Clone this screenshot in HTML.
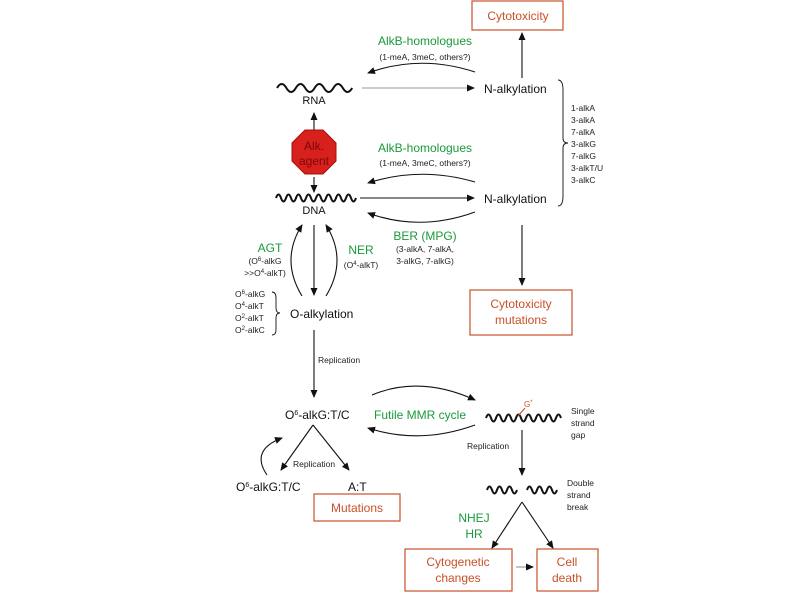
<!DOCTYPE html>
<html><head><meta charset="utf-8"><style>
html,body{margin:0;padding:0;background:#fff}
svg{display:block;font-family:"Liberation Sans",sans-serif}
.g{fill:#1a9a3a}.o{fill:#c8502a}
</style></head><body>
<svg width="794" height="595" viewBox="0 0 794 595" xmlns="http://www.w3.org/2000/svg">
<defs>
<marker id="a" markerWidth="8" markerHeight="8" refX="7" refY="4" orient="auto" markerUnits="userSpaceOnUse"><path d="M0,0.5 L8,4 L0,7.5z" fill="#111"/></marker>
</defs>
<g fill="none" stroke="#c8502a" stroke-width="1.2">
<rect x="472" y="1" width="91" height="29"/>
<rect x="470" y="290" width="102" height="45"/>
<rect x="314" y="494" width="86" height="27"/>
<rect x="405" y="549" width="107" height="42"/>
<rect x="537" y="549" width="61" height="42"/>
</g>
<g font-size="12" class="o" text-anchor="middle">
<text x="518" y="20">Cytotoxicity</text>
<text x="521" y="308">Cytotoxicity</text>
<text x="521" y="324">mutations</text>
<text x="357" y="512">Mutations</text>
<text x="458" y="566">Cytogenetic</text>
<text x="458" y="582">changes</text>
<text x="567" y="566">Cell</text>
<text x="567" y="582">death</text>
</g>
<g stroke="#111" stroke-width="1.1" fill="none">
<path d="M475,72 Q420,54 368,73" marker-end="url(#a)"/>
<path d="M362,88 L474,88" stroke="#999" marker-end="url(#a)"/>
<path d="M522,78 L522,33" marker-end="url(#a)"/>
<path d="M314,140 L314,113" marker-end="url(#a)"/>
<path d="M314,177 L314,192" marker-end="url(#a)"/>
<path d="M475,182 Q420,166 368,183" marker-end="url(#a)"/>
<path d="M360,198 L474,198" marker-end="url(#a)"/>
<path d="M475,212 Q420,232 368,213" marker-end="url(#a)"/>
<path d="M522,225 L522,285" marker-end="url(#a)"/>
<path d="M314,225 L314,295" marker-end="url(#a)"/>
<path d="M302,296 Q280,260 302,225" marker-end="url(#a)"/>
<path d="M326,296 Q348,260 326,225" marker-end="url(#a)"/>
<path d="M314,330 L314,397" marker-end="url(#a)"/>
<path d="M372,395 Q420,375 475,400" marker-end="url(#a)"/>
<path d="M475,425 Q420,445 368,428" marker-end="url(#a)"/>
<path d="M522,430 L522,475" marker-end="url(#a)"/>
<path d="M313,425 L281,470" marker-end="url(#a)"/>
<path d="M313,425 L349,470" marker-end="url(#a)"/>
<path d="M267,475 Q250,450 282,438" marker-end="url(#a)"/>
<path d="M522,502 L492,548" marker-end="url(#a)"/>
<path d="M522,502 L553,548" marker-end="url(#a)"/>
<path d="M516,567 L533,567" stroke="#888" marker-end="url(#a)"/>
<path d="M558,80 Q563,80 563,90 L563,138 Q563,143 568,143 Q563,143 563,148 L563,196 Q563,206 558,206" stroke-width="0.9"/>
<path d="M272,292 Q276,292 276,298 L276,308 Q276,313 280,313 Q276,313 276,318 L276,330 Q276,335 272,335" stroke-width="0.9"/>
<path d="M277,88 q4.7,-8 9.4,0 t9.4,0 t9.4,0 t9.4,0 t9.4,0 t9.4,0 t9.4,0 t9.4,0" stroke-width="2"/>
<path d="M276,198 q2.5,-7 5,0 t5,0 t5,0 t5,0 t5,0 t5,0 t5,0 t5,0 t5,0 t5,0 t5,0 t5,0 t5,0 t5,0 t5,0 t5,0" stroke-width="2"/>
<path d="M486,418 q2.5,-7 5,0 t5,0 t5,0 t5,0 t5,0 t5,0 t5,0 t5,0 t5,0 t5,0 t5,0 t5,0 t5,0 t5,0 t5,0" stroke-width="2"/>
<path d="M487,490 q2.5,-7 5,0 t5,0 t5,0 t5,0 t5,0 t5,0" stroke-width="2"/>
<path d="M527,490 q2.5,-7 5,0 t5,0 t5,0 t5,0 t5,0 t5,0" stroke-width="2"/>
<path d="M518,416 L525,408" stroke="#c8502a"/>
</g>
<polygon points="305,130 323,130 336,143 336,161 323,174 305,174 292,161 292,143" fill="#d8201c" stroke="#a01010"/>
<text x="314" y="150" font-size="12" fill="#7a0a0a" text-anchor="middle">Alk.</text>
<text x="314" y="165" font-size="12" fill="#7a0a0a" text-anchor="middle">agent</text>
<g font-size="12" fill="#111">
<text x="314" y="104" text-anchor="middle" font-size="11">RNA</text>
<text x="314" y="214" text-anchor="middle" font-size="11">DNA</text>
<text x="484" y="93">N-alkylation</text>
<text x="484" y="203">N-alkylation</text>
<text x="290" y="318">O-alkylation</text>
<text x="285" y="419">O<tspan font-size="7" dy="-4">6</tspan><tspan dy="4">-alkG:T/C</tspan></text>
<text x="236" y="491">O<tspan font-size="7" dy="-4">6</tspan><tspan dy="4">-alkG:T/C</tspan></text>
<text x="348" y="491">A:T</text>
</g>
<g font-size="8.5" fill="#222">
<text x="571" y="111">1-alkA</text><text x="571" y="123">3-alkA</text><text x="571" y="135">7-alkA</text><text x="571" y="147">3-alkG</text><text x="571" y="159">7-alkG</text><text x="571" y="171">3-alkT/U</text><text x="571" y="183">3-alkC</text>
<text x="235" y="297">O<tspan font-size="6" dy="-3">6</tspan><tspan dy="3">-alkG</tspan></text>
<text x="235" y="309">O<tspan font-size="6" dy="-3">4</tspan><tspan dy="3">-alkT</tspan></text>
<text x="235" y="321">O<tspan font-size="6" dy="-3">2</tspan><tspan dy="3">-alkT</tspan></text>
<text x="235" y="333">O<tspan font-size="6" dy="-3">2</tspan><tspan dy="3">-alkC</tspan></text>
<text x="425" y="60" text-anchor="middle">(1-meA, 3meC, others?)</text>
<text x="425" y="166" text-anchor="middle">(1-meA, 3meC, others?)</text>
<text x="425" y="252" text-anchor="middle">(3-alkA, 7-alkA,</text>
<text x="425" y="264" text-anchor="middle">3-alkG, 7-alkG)</text>
<text x="265" y="264" text-anchor="middle">(O<tspan font-size="6" dy="-3">6</tspan><tspan dy="3">-alkG</tspan></text>
<text x="265" y="276" text-anchor="middle">&gt;&gt;O<tspan font-size="6" dy="-3">4</tspan><tspan dy="3">-alkT)</tspan></text>
<text x="361" y="268" text-anchor="middle">(O<tspan font-size="6" dy="-3">4</tspan><tspan dy="3">-alkT)</tspan></text>
<text x="318" y="363">Replication</text>
<text x="293" y="467">Replication</text>
<text x="467" y="449">Replication</text>
<text x="571" y="414">Single</text><text x="571" y="426">strand</text><text x="571" y="438">gap</text>
<text x="567" y="486">Double</text><text x="567" y="498">strand</text><text x="567" y="510">break</text>
</g>
<text x="524" y="407" font-size="8" class="o">G<tspan font-size="6" dy="-3">*</tspan></text>
<g font-size="12" class="g" text-anchor="middle">
<text x="425" y="45">AlkB-homologues</text>
<text x="425" y="152">AlkB-homologues</text>
<text x="425" y="240">BER (MPG)</text>
<text x="270" y="252">AGT</text>
<text x="361" y="254">NER</text>
<text x="420" y="419">Futile MMR cycle</text>
<text x="474" y="522">NHEJ</text>
<text x="474" y="538">HR</text>
</g>
</svg>
</body></html>
